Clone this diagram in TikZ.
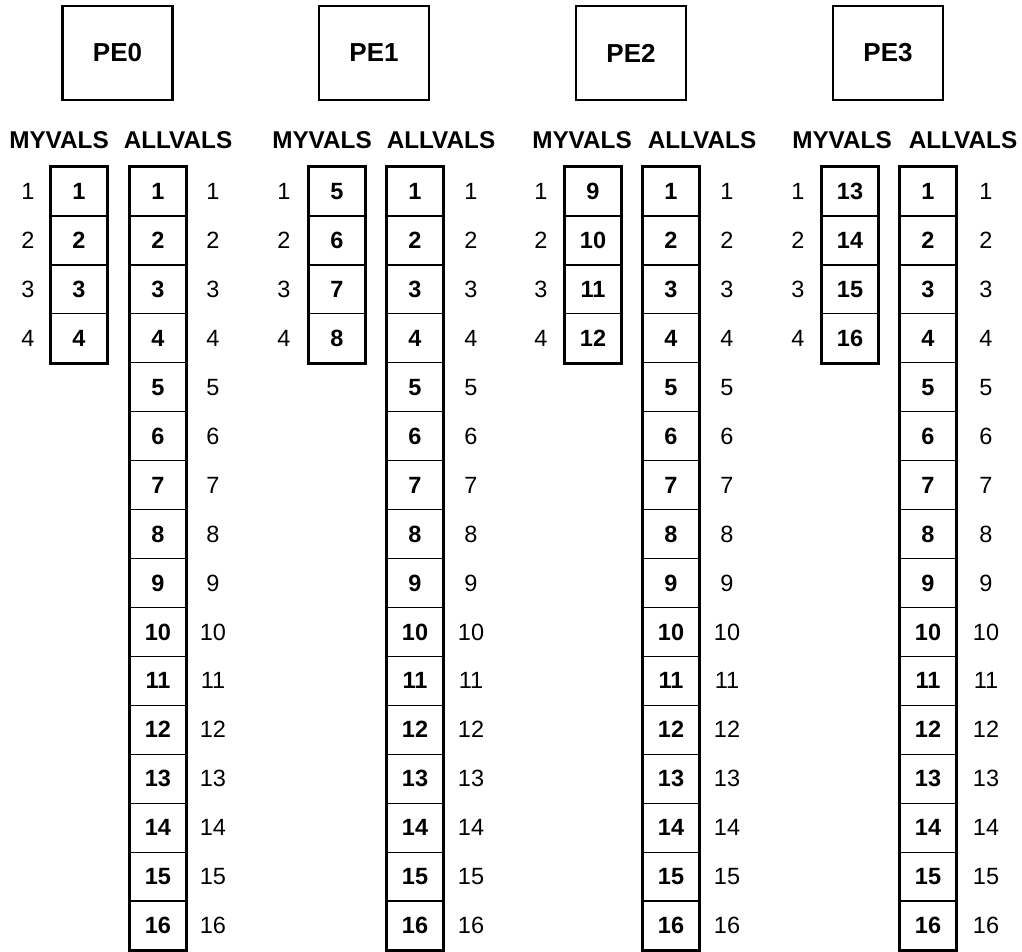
\documentclass[tikz,border=0pt]{standalone}
\usepackage{fontspec}
\setmainfont{Liberation Sans}
\begin{document}
\begin{tikzpicture}[x=1pt,y=-1pt,
  cellbox/.style={draw=black,line width=1.1pt,minimum width=56pt,minimum height=48.9pt,inner sep=0pt,
    font=\fontsize{23.5}{23.5}\selectfont\bfseries},
  outerbox/.style={draw=black,line width=2.6pt},
  pebox/.style={draw=black,line width=2.4pt,minimum width=110pt,minimum height=94pt,inner sep=0pt,
    font=\fontsize{26}{26}\selectfont\bfseries},
  hdr/.style={inner sep=0pt,font=\fontsize{24.3}{24.3}\selectfont\bfseries},
  idx/.style={inner sep=0pt,font=\fontsize{23.5}{23.5}\selectfont}]
\useasboundingbox (0,0) rectangle (1022,951);
\foreach \p/\ax/\mx/\lx/\rx/\bx/\mlx/\alx in
  {0/158/79/28/213/117.5/59/178,
   1/415/337/284/471/374/322/441,
   2/671/593/541/727/631/582/702,
   3/928/850/798/986/888/842/963}{
  \node[pebox] (pe\p) at (\bx,53) {PE\p};
  \node[hdr] (my\p) at (\mlx,140) {MYVALS};
  \node[hdr] (all\p) at (\alx,140) {ALLVALS};
  \foreach \i in {1,...,16}{
    \pgfmathsetmacro{\yy}{216+(\i-1.5)*48.93}
    \node[cellbox] (a\p-\i) at (\ax,\yy) {\i};
    \node[idx] (ar\p-\i) at (\rx,\yy) {\i};
  }
  \foreach \i in {1,...,4}{
    \pgfmathsetmacro{\yy}{216+(\i-1.5)*48.93}
    \pgfmathtruncatemacro{\v}{4*\p+\i}
    \node[cellbox] (m\p-\i) at (\mx,\yy) {\v};
    \node[idx] (ml\p-\i) at (\lx,\yy) {\i};
  }
  \draw[outerbox] (a\p-1.north west) rectangle (a\p-16.south east);
  \draw[outerbox] (m\p-1.north west) rectangle (m\p-4.south east);
}
\end{tikzpicture}
\end{document}
